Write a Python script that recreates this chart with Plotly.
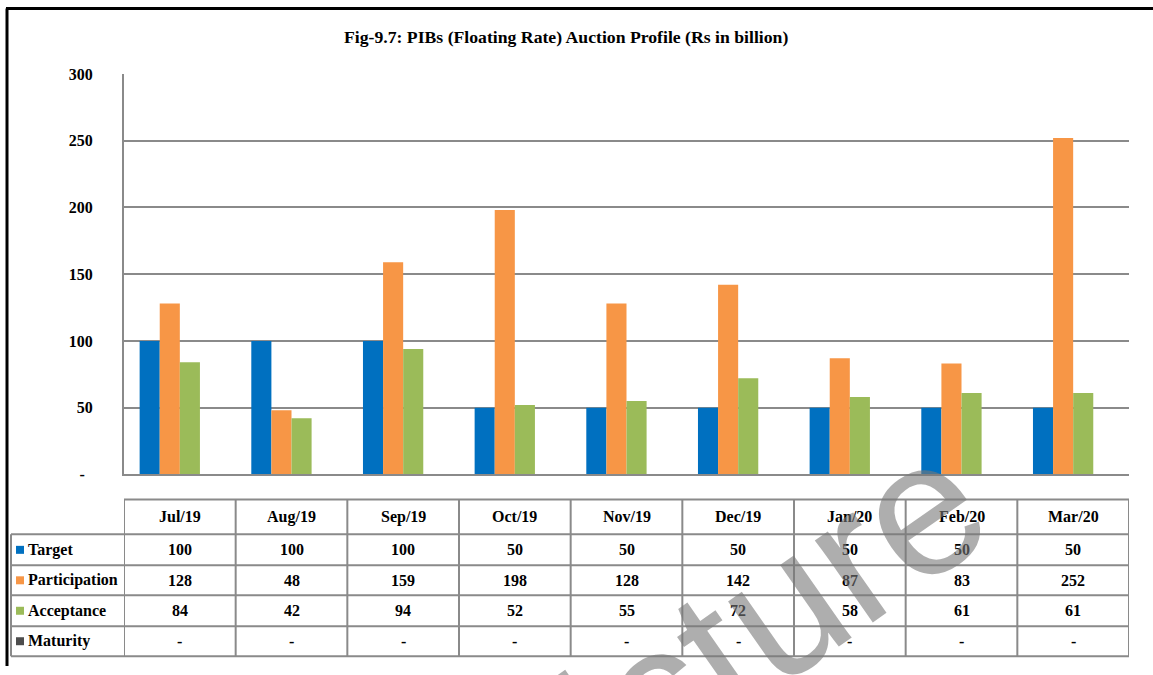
import plotly.graph_objects as go

# ---------------- data ----------------
months = ["Jul/19", "Aug/19", "Sep/19", "Oct/19", "Nov/19", "Dec/19", "Jan/20", "Feb/20", "Mar/20"]
target = [100, 100, 100, 50, 50, 50, 50, 50, 50]
participation = [128, 48, 159, 198, 128, 142, 87, 83, 252]
acceptance = [84, 42, 94, 52, 55, 72, 58, 61, 61]
maturity = [None] * 9  # shown as "-" in the table

series_names = ["Target", "Participation", "Acceptance", "Maturity"]
series_values = [target, participation, acceptance, maturity]
colors = ["#0070C0", "#F79646", "#9BBB59", "#4D4D4D"]

y_ticks = [0, 50, 100, 150, 200, 250, 300]
y_ticktext = ["-\u00a0\u00a0", "50", "100", "150", "200", "250", "300"]

title_text = "Fig-9.7: PIBs (Floating Rate) Auction Profile (Rs in billion)"

# ---------------- layout helpers ----------------
W, H = 1153, 675
OFF, SCALE = 8.0, 0.976   # empirical vertical correction of the photographed page


def px(x):
    return x / W


def py(y):
    yd = max((y - OFF) / SCALE, 0.5)
    return 1 - yd / H


SERIF = "Liberation Serif, Times New Roman, serif"
GRID = "#8A8A8A"

fig = go.Figure()
for name, vals, col in zip(series_names, series_values, colors):
    fig.add_trace(go.Bar(x=months, y=vals, name=name, marker=dict(color=col, line=dict(width=0))))

fig.update_layout(
    autosize=True,
    margin=dict(l=0, r=0, t=0, b=0, pad=0),
    paper_bgcolor="white", plot_bgcolor="white",
    barmode="group", bargap=0.28, bargroupgap=0,
    showlegend=False,
    font=dict(family=SERIF, color="black"),
    xaxis=dict(
        domain=[px(124), px(1129)], range=[-0.5, 8.5],
        showticklabels=False, showgrid=False, zeroline=False,
        showline=True, linecolor=GRID, linewidth=2, ticks="",
    ),
    yaxis=dict(
        domain=[py(475), py(74)], range=[0, 300],
        tickvals=y_ticks, ticktext=y_ticktext,
        showgrid=True, gridcolor=GRID, gridwidth=2,
        zeroline=False, showline=True, linecolor=GRID, linewidth=2,
        ticks="", ticklabelstandoff=26,
        tickfont=dict(family=SERIF, size=16, color="black", weight="bold"),
    ),
)

# title
fig.add_annotation(
    x=px(566), y=py(37), xref="paper", yref="paper",
    text=title_text, showarrow=False,
    font=dict(family=SERIF, size=17.7, color="black", weight="bold"),
    xanchor="center", yanchor="middle",
)

shapes = []
# outer frame (black)
shapes.append(dict(type="line", xref="paper", yref="paper", x0=px(6), x1=1.0, y0=py(6), y1=py(6),
                   line=dict(color="black", width=3)))
shapes.append(dict(type="line", xref="paper", yref="paper", x0=px(7), x1=px(7), y0=py(5), y1=0,
                   line=dict(color="black", width=3)))

# table grid
t_top, t_hdr = 500, 535
row_bottoms = [566, 596, 627, 657]
tab_left = 11
for i in range(len(months) + 1):
    shapes.append(dict(type="line", xref="x", yref="paper", x0=i - 0.5, x1=i - 0.5,
                       y0=py(t_top), y1=py(657), line=dict(color=GRID, width=2)))
shapes.append(dict(type="line", xref="paper", yref="paper", x0=px(tab_left), x1=px(tab_left),
                   y0=py(t_hdr), y1=py(657), line=dict(color=GRID, width=2)))
shapes.append(dict(type="line", xref="x", yref="paper", x0=-0.5, x1=len(months) - 0.5,
                   y0=py(t_top), y1=py(t_top), line=dict(color=GRID, width=2)))
for yb in [t_hdr] + row_bottoms:
    shapes.append(dict(type="line", xref="paper", yref="paper", x0=px(tab_left), x1=px(1129),
                       y0=py(yb), y1=py(yb), line=dict(color=GRID, width=2)))

cell_font = dict(family=SERIF, size=16, color="black", weight="bold")
# header row
for m in months:
    fig.add_annotation(x=m, y=py((t_top + t_hdr) / 2), xref="x", yref="paper", text=m,
                       showarrow=False, font=cell_font, xanchor="center", yanchor="middle")
# data rows
row_tops = [t_hdr] + row_bottoms[:-1]
for name, vals, col, yt, yb in zip(series_names, series_values, colors, row_tops, row_bottoms):
    yc = (yt + yb) / 2
    shapes.append(dict(type="rect", xref="paper", yref="paper", x0=px(16), x1=px(24),
                       y0=py(yc + 4), y1=py(yc - 4), fillcolor=col, line=dict(width=0)))
    fig.add_annotation(x=px(26), y=py(yc), xref="paper", yref="paper", text=name,
                       showarrow=False, font=cell_font, xanchor="left", yanchor="middle")
    for m, v in zip(months, vals):
        fig.add_annotation(x=m, y=py(yc), xref="x", yref="paper",
                           text="-" if v is None else str(v),
                           showarrow=False, font=cell_font, xanchor="center", yanchor="middle")

fig.update_layout(shapes=shapes)

# watermark
fig.add_annotation(
    x=px(720), y=py(650), xref="paper", yref="paper", text="Picture", showarrow=False,
    textangle=-35, font=dict(family="Liberation Sans, Arial, sans-serif", size=190,
                             color="rgba(120,120,120,0.6)"),
    xanchor="center", yanchor="middle",
)

post = (
    "document.documentElement.style.margin='0';"
    "document.body.style.margin='0';"
    "document.documentElement.style.overflow='hidden';"
    "document.body.style.overflow='hidden';"
    "var gd=document.getElementById('{plot_id}');"
    "gd.style.width='100vw';gd.style.height='100vh';"
    "Plotly.Plots.resize(gd);"
)

fig.write_html(
    "out.html",
    config={"displayModeBar": False, "responsive": True},
    default_width="100vw", default_height="100vh",
    post_script=post,
)
